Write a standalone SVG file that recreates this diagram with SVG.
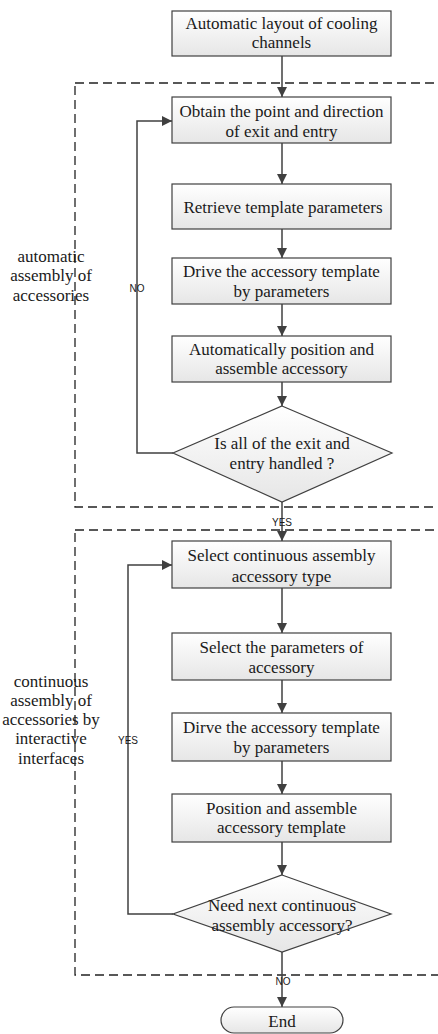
<svg xmlns="http://www.w3.org/2000/svg" width="438" height="1034" viewBox="0 0 438 1034">
<defs>
<linearGradient id="g" x1="0" y1="0" x2="0" y2="1">
<stop offset="0" stop-color="#ffffff"/>
<stop offset="1" stop-color="#e6e6e6"/>
</linearGradient>
<marker id="ah" viewBox="0 0 10 10" refX="10" refY="5" markerWidth="10" markerHeight="10" markerUnits="userSpaceOnUse" orient="auto">
<path d="M0,0 L10,5 L0,10 Z" fill="#404040"/>
</marker>
</defs>
<style>
.n{fill:url(#g);stroke:#404040;stroke-width:1.2}
.t{font-family:'Liberation Serif',serif;font-size:17px;fill:#1a1a1a;text-anchor:middle}
.s{font-family:'Liberation Sans',sans-serif;font-size:10px;fill:#1a1a1a;text-anchor:middle}
.c{fill:none;stroke:#404040;stroke-width:1.5;marker-end:url(#ah)}
.d{fill:none;stroke:#222;stroke-width:1.3;stroke-dasharray:9 5}
</style>
<rect width="438" height="1034" fill="#fff"/>
<g id="groups">
<rect class="d" x="75" y="83" width="380" height="424"/>
<rect class="d" x="75" y="530" width="380" height="445"/>
<text class="t" x="51" y="262">automatic</text>
<text class="t" x="51" y="281">assembly of</text>
<text class="t" x="51" y="301">accessories</text>
<text class="t" x="51" y="687">continuous</text>
<text class="t" x="51" y="706">assembly of</text>
<text class="t" x="51" y="725">accessories by</text>
<text class="t" x="51" y="744">interactive</text>
<text class="t" x="51" y="764">interfaces</text>
</g>
<g id="connectors">
<path class="c" d="M282,56 V97"/>
<path class="c" d="M282,143 V184"/>
<path class="c" d="M282,229 V258"/>
<path class="c" d="M282,304 V336"/>
<path class="c" d="M282,382 V406"/>
<path class="c" d="M173,453 H137 V121 H172"/>
<path class="c" d="M282,502 V541"/>
<path class="c" d="M282,588 V633"/>
<path class="c" d="M282,680 V713"/>
<path class="c" d="M282,761 V794"/>
<path class="c" d="M282,842 V875"/>
<path class="c" d="M173,914 H128 V565 H172"/>
<path class="c" d="M282,952 V1007"/>
<text class="s" x="137" y="292">NO</text>
<text class="s" x="282" y="526">YES</text>
<text class="s" x="128" y="744">YES</text>
<text class="s" x="283" y="985">NO</text>
</g>
<g id="n1"><rect class="n" x="172" y="11" width="219" height="45"/>
<text class="t" x="281.5" y="29">Automatic layout of cooling</text>
<text class="t" x="281.5" y="48">channels</text></g>
<g id="n2"><rect class="n" x="172" y="97" width="219" height="46"/>
<text class="t" x="281.5" y="117">Obtain the point and direction</text>
<text class="t" x="281.5" y="137">of exit and entry</text></g>
<g id="n3"><rect class="n" x="172" y="184" width="219" height="45"/>
<text class="t" x="283" y="213">Retrieve template parameters</text></g>
<g id="n4"><rect class="n" x="172" y="258" width="219" height="46"/>
<text class="t" x="281.5" y="277">Drive the accessory template</text>
<text class="t" x="281.5" y="297">by parameters</text></g>
<g id="n5"><rect class="n" x="172" y="336" width="219" height="46"/>
<text class="t" x="281.5" y="355">Automatically position and</text>
<text class="t" x="281.5" y="374">assemble accessory</text></g>
<g id="n6"><polygon class="n" points="282,406 392,453 282,502 173,453"/>
<text class="t" x="282" y="449">Is all of the exit and</text>
<text class="t" x="282" y="469">entry handled ?</text></g>
<g id="n7"><rect class="n" x="172" y="541" width="219" height="47"/>
<text class="t" x="281.5" y="561">Select continuous assembly</text>
<text class="t" x="281.5" y="582">accessory type</text></g>
<g id="n8"><rect class="n" x="172" y="633" width="219" height="47"/>
<text class="t" x="281.5" y="653">Select the parameters of</text>
<text class="t" x="281.5" y="673">accessory</text></g>
<g id="n9"><rect class="n" x="172" y="713" width="219" height="48"/>
<text class="t" x="281.5" y="733">Dirve the accessory template</text>
<text class="t" x="281.5" y="753">by parameters</text></g>
<g id="n10"><rect class="n" x="172" y="794" width="219" height="48"/>
<text class="t" x="281.5" y="814">Position and assemble</text>
<text class="t" x="281.5" y="833">accessory template</text></g>
<g id="n11"><polygon class="n" points="282,875 391,914 282,952 173,914"/>
<text class="t" x="282" y="911">Need next continuous</text>
<text class="t" x="282" y="931">assembly accessory?</text></g>
<g id="n12"><rect class="n" x="221" y="1007" width="122" height="26" rx="13" ry="13"/>
<text class="t" x="282" y="1027">End</text></g>
</svg>
